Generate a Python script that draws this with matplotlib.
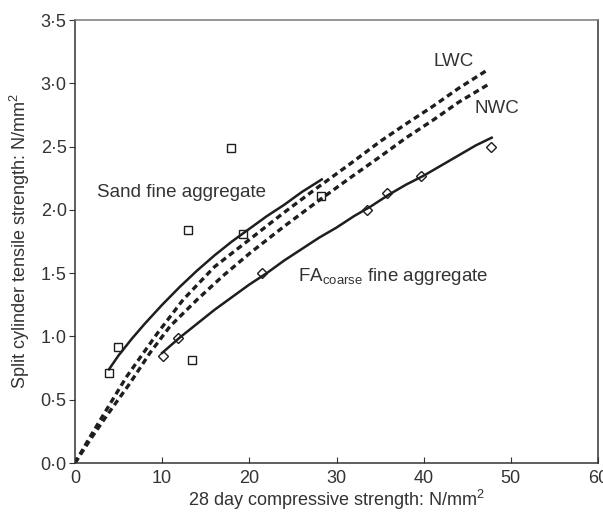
"""Split cylinder tensile vs 28 day compressive strength."""

import matplotlib

matplotlib.use("Agg")
import matplotlib.pyplot as plt
from matplotlib.ticker import FuncFormatter

plt.rcParams["font.family"] = ["Liberation Sans", "DejaVu Sans"]

# measured points
sand_x = [3.9, 4.9, 12.95, 13.4, 17.9, 19.3, 28.2]
sand_y = [0.71, 0.92, 1.84, 0.81, 2.49, 1.81, 2.11]
fa_x = [10.1, 11.8, 21.5, 33.5, 35.8, 39.7, 47.7]
fa_y = [0.845, 0.99, 1.50, 2.00, 2.13, 2.27, 2.50]

# trend curves
sand_fit_x = [3.9, 5, 6.5, 8, 10, 12, 14, 16, 18, 20, 22, 24, 26, 28.3]
sand_fit_y = [0.74, 0.85, 0.98, 1.10, 1.25, 1.39, 1.52, 1.64, 1.75, 1.85, 1.95, 2.04, 2.14, 2.24]
fa_fit_x = [10, 12, 14, 16, 18, 20, 22, 24, 26, 28, 30, 32, 34, 36, 38, 40, 42, 44, 46, 47.8]
fa_fit_y = [0.87, 0.99, 1.10, 1.21, 1.31, 1.41, 1.50, 1.60, 1.69, 1.78, 1.86, 1.95,
            2.03, 2.12, 2.20, 2.27, 2.35, 2.43, 2.51, 2.57]
lwc_x = [0, 1.5, 2.9, 5.9, 9.4, 12.4, 16, 20.1, 24, 27.7, 31.5, 35, 38, 41.1, 44, 47.2]
lwc_y = [0, 0.18, 0.34, 0.68, 1.02, 1.29, 1.55, 1.77, 1.98, 2.17, 2.36, 2.54, 2.68, 2.82, 2.96, 3.10]
nwc_x = [0, 1.8, 3.6, 6.3, 8.6, 10.9, 14, 17, 20.1, 24, 27.7, 31.5, 35, 38, 41.1, 44, 47.4]
nwc_y = [0, 0.19, 0.37, 0.63, 0.87, 1.08, 1.29, 1.48, 1.66, 1.87, 2.06, 2.25, 2.42, 2.57, 2.71, 2.85, 2.99]

INK = "#1e1e1e"
TXT = "#333333"

fig = plt.figure(figsize=(6.03, 5.16), dpi=100)
ax = fig.add_axes([75 / 603, 53 / 516, 523 / 603, 443 / 516])

dash = (0, (1.8, 1.2))
ax.plot(lwc_x, lwc_y, color=INK, lw=2.4, linestyle=dash, dash_capstyle="butt")
ax.plot(nwc_x, nwc_y, color=INK, lw=2.4, linestyle=dash, dash_capstyle="butt")
ax.plot(sand_fit_x, sand_fit_y, color=INK, lw=1.8)
ax.plot(fa_fit_x, fa_fit_y, color=INK, lw=1.8)

ax.plot(sand_x, sand_y, linestyle="none", marker="s", markersize=6,
        markerfacecolor="none", markeredgecolor=INK, markeredgewidth=1.0)
ax.plot(fa_x, fa_y, linestyle="none", marker="D", markersize=5.5,
        markerfacecolor="none", markeredgecolor=INK, markeredgewidth=1.0)

ax.text(43.4, 3.17, "LWC", fontsize=13.5, color=TXT, ha="center", va="center")
ax.text(48.4, 2.80, "NWC", fontsize=13.5, color=TXT, ha="center", va="center")
ax.text(2.5, 2.14, "Sand fine aggregate", fontsize=13.5, color=TXT, ha="left", va="center")
ax.text(25.6, 1.47, r"FA$_{\mathregular{coarse}}$ fine aggregate", fontsize=13.5,
        color=TXT, ha="left", va="center")

ax.set_xlim(0, 60)
ax.set_ylim(0, 3.5)
ax.set_xticks(range(0, 61, 10))
ax.set_yticks([0, 0.5, 1.0, 1.5, 2.0, 2.5, 3.0, 3.5])
ax.yaxis.set_major_formatter(FuncFormatter(lambda v, _p: f"{v:.1f}".replace(".", "\u00b7")))
ax.tick_params(axis="x", direction="in", length=4, pad=5, labelsize=13, colors=TXT)
ax.tick_params(axis="y", direction="out", length=4, pad=2, labelsize=13, colors=TXT)

ax.set_xlabel(r"28 day compressive strength: N/mm$^{\mathregular{2}}$", fontsize=13,
              color=TXT, labelpad=1)
ax.set_ylabel(r"Split cylinder tensile strength: N/mm$^{\mathregular{2}}$", fontsize=13,
              color=TXT, labelpad=6)

for side in ("left", "bottom", "right"):
    ax.spines[side].set_color("#333333")
    ax.spines[side].set_linewidth(1.1)
ax.spines["top"].set_color("#777777")
ax.spines["top"].set_linewidth(1.1)

fig.savefig("out.png", dpi=100)
